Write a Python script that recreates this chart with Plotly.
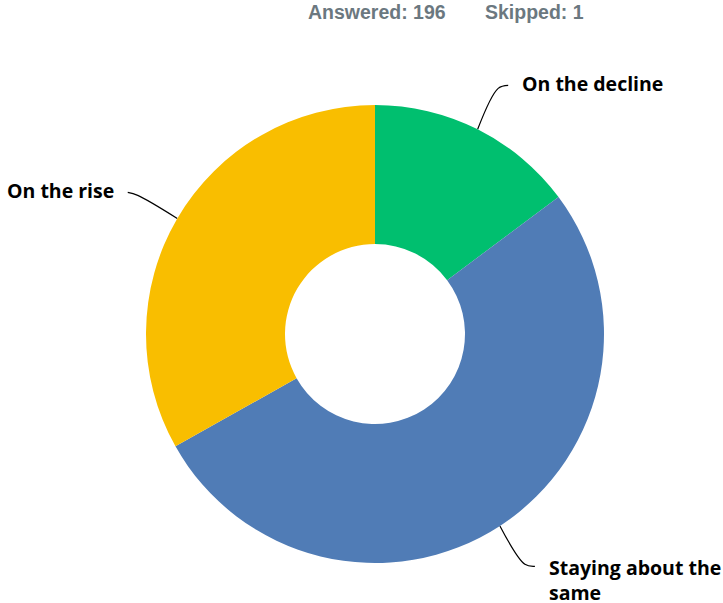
import math
import plotly.graph_objects as go

# Survey responses
categories = ["On the decline", "Staying about the same", "On the rise"]
counts = [29, 102, 65]
colors = ["#00BF6F", "#507CB6", "#F9BE00"]
answered = 196
skipped = 1

W, H = 723, 603
cx, cy, R = 375, 334, 229          # donut centre / radius in pixels
hole_r = 90

fig = go.Figure()

fig.add_trace(go.Pie(
    labels=categories,
    values=counts,
    marker=dict(colors=colors, line=dict(width=0)),
    hole=hole_r / R,
    sort=False,
    direction="clockwise",
    rotation=0,
    textinfo="none",
    hoverinfo="label+value+percent",
    showlegend=False,
    domain=dict(x=[(cx - R) / W, (cx + R) / W],
                y=[(H - cy - R) / H, (H - cy + R) / H]),
))

# Leader lines from the middle of each slice to its label
total = sum(counts)
start = 0.0
label_specs = []
for name, v in zip(categories, counts):
    frac = v / total
    mid = (start + frac / 2) * 2 * math.pi
    start += frac
    sx, sy = math.sin(mid), -math.cos(mid)
    side = 1 if sx >= 0 else -1
    p0 = (cx + R * sx, cy + R * sy)
    p1 = (cx + 1.2 * R * sx, cy + 1.2 * R * sy)
    p2 = (p1[0] + side * 10, p1[1] + (-3 if sy < 0 else 2))
    fig.add_trace(go.Scatter(
        x=[p0[0], p1[0], p2[0]], y=[p0[1], p1[1], p2[1]],
        mode="lines", line=dict(color="#000000", width=1.2, shape="spline", smoothing=1.0),
        hoverinfo="skip", showlegend=False,
    ))
    label_specs.append((name, p2, side))

label_font = dict(family="Open Sans", size=19.5, color="#000000")
for name, (lx, ly), side in label_specs:
    if name == "Staying about the same":
        fig.add_annotation(x=lx + 12, y=ly + 1, text="<b>Staying about the</b>",
                           xanchor="left", yanchor="middle", showarrow=False,
                           font=label_font, xref="x", yref="y")
        fig.add_annotation(x=lx + 12, y=ly + 26, text="<b>same</b>",
                           xanchor="left", yanchor="middle", showarrow=False,
                           font=label_font, xref="x", yref="y")
    else:
        fig.add_annotation(x=lx + side * 12, y=ly - 2, text=f"<b>{name}</b>",
                           xanchor="left" if side > 0 else "right", yanchor="middle",
                           showarrow=False, font=label_font, xref="x", yref="y")

# Response summary header
head_font = dict(family="Liberation Sans", size=19.5, color="#6B7880")
fig.add_annotation(x=306, y=12, text=f"<b>Answered: {answered}</b>", xanchor="left",
                   yanchor="middle", showarrow=False, font=head_font, xref="x", yref="y")
fig.add_annotation(x=483, y=12, text=f"<b>Skipped: {skipped}</b>", xanchor="left",
                   yanchor="middle", showarrow=False, font=head_font, xref="x", yref="y")

fig.update_layout(
    width=W, height=H,
    margin=dict(l=0, r=0, t=0, b=0),
    paper_bgcolor="#FFFFFF", plot_bgcolor="rgba(0,0,0,0)",
    xaxis=dict(range=[0, W], visible=False, fixedrange=True),
    yaxis=dict(range=[H, 0], visible=False, fixedrange=True),
)

fig.write_html("out.html")
